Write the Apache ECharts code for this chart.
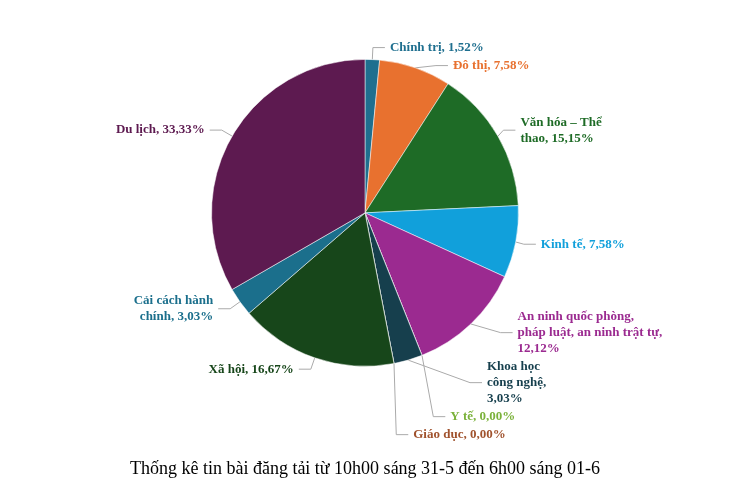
<!DOCTYPE html>
<html><head><meta charset="utf-8">
<script src="https://cdn.jsdelivr.net/npm/echarts@6/dist/echarts.min.js"></script>
<style>html,body{margin:0;padding:0;background:#fff}#c{width:730px;height:495px}</style>
</head><body><div id="c"></div>
<script>
const categories = ["Chính trị","Đô thị","Văn hóa – Thể thao","Kinh tế","An ninh quốc phòng, pháp luật, an ninh trật tự","Y tế","Khoa học công nghệ","Giáo dục","Xã hội","Cải cách hành chính","Du lịch"];
const values = [1.52,7.58,15.15,7.58,12.12,0.00,3.03,0.00,16.67,3.03,33.33];
const colors = ["#1f6f8f","#e8712f","#1e6b26","#11a0db","#9b2a90","#7bb23b","#163f4d","#a0522d","#17461a","#1b6f8c","#5d1a50"];
const labelNames = ["Chính trị","Đô thị","Văn hóa – Thể\nthao","Kinh tế","An ninh quốc phòng,\npháp luật, an ninh trật tự,\n","Y tế","Khoa học\ncông nghệ,\n","Giáo dục","Xã hội","Cải cách hành\nchính","Du lịch"];
const title = "Thống kê tin bài đăng tải từ 10h00 sáng 31-5 đến 6h00 sáng 01-6";
const chart = echarts.init(document.getElementById('c'));
chart.setOption({
  animation:false,
  title:{text:title,left:'center',bottom:12,textStyle:{fontFamily:'Liberation Serif',fontSize:18,fontWeight:'normal',color:'#000'}},
  series:[{
    type:'pie',center:['50%','43%'],radius:'62%',startAngle:90,clockwise:true,
    stillShowZeroSum:true,minShowLabelAngle:0,
    itemStyle:{borderColor:'#fff',borderWidth:0.5},
    label:{fontFamily:'Liberation Serif',fontWeight:'bold',fontSize:13,lineHeight:16,
      formatter:p=>{const n=labelNames[p.dataIndex];const v=p.value.toFixed(2).replace('.',',')+'%';return n.endsWith('\n')?n+v:n+', '+v;}},
    labelLine:{lineStyle:{color:'#aaa'},length:12,length2:12},
    data:categories.map((c,i)=>({name:c,value:values[i],itemStyle:{color:colors[i]},label:{color:colors[i],align:'center'}}))
  }]
});
</script></body></html>
